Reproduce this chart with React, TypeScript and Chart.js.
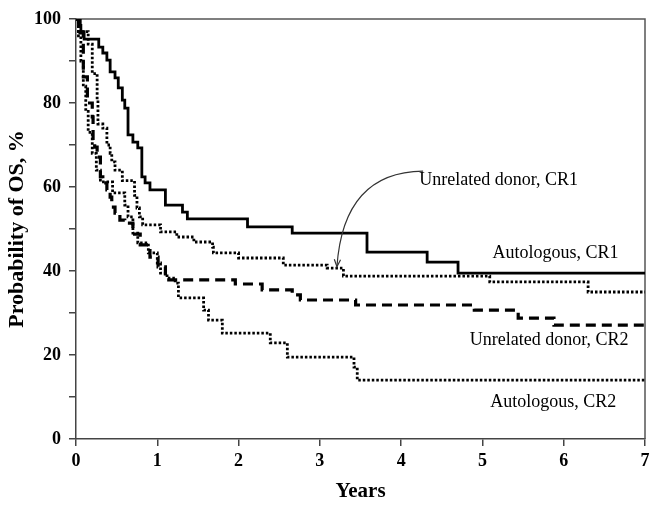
import React, { useEffect, useRef } from "react";
import { Chart, registerables } from "chart.js";

Chart.register(...registerables);

// ---- Data (years, survival %) ----
const autoCR1Years = [0, 0.03, 0.06, 0.1, 0.28, 0.33, 0.38, 0.42, 0.48, 0.52, 0.57, 0.6, 0.64, 0.7, 0.76, 0.81, 0.85, 0.91, 1.1, 1.31, 1.37, 2.11, 2.66, 3.58, 4.32, 4.7, 7];
const autoCR1Surv = [100, 98.5, 97, 95.2, 93.3, 91.9, 90.2, 87.4, 86, 83.6, 80.7, 78.8, 72.4, 70.7, 69.3, 62.4, 61, 59.3, 55.7, 54, 52.4, 50.5, 49, 44.5, 42.1, 39.5, 39.5];

const unrelCR1Years = [0, 0.03, 0.15, 0.2, 0.26, 0.27, 0.33, 0.38, 0.42, 0.44, 0.48, 0.57, 0.72, 0.75, 0.78, 0.82, 1.04, 1.24, 1.45, 1.68, 1.69, 2.0, 2.55, 3.09, 3.29, 5.09, 6.3, 7];
const unrelCR1Surv = [100, 97, 94, 87, 80.7, 75, 74, 70, 68, 66, 64, 61.5, 58, 55, 52.9, 51, 49.3, 48.1, 46.9, 45.7, 44.3, 43.1, 41.4, 40.7, 38.8, 37.4, 35, 35];

const unrelCR2Years = [0, 0.05, 0.09, 0.14, 0.2, 0.21, 0.23, 0.26, 0.3, 0.33, 0.38, 0.42, 0.44, 0.48, 0.54, 0.6, 0.7, 0.79, 0.91, 1.01, 1.1, 1.96, 2.29, 2.66, 2.76, 3.44, 4.9, 5.44, 5.88, 7];
const unrelCR2Surv = [100, 96.7, 86.2, 80, 76.7, 71.2, 69.5, 67.1, 62.4, 61, 59.3, 57.6, 55.2, 53.8, 52.1, 51.4, 48.8, 46.2, 43.3, 41, 37.9, 36.9, 35.5, 34.3, 33.1, 31.9, 30.7, 28.8, 27.1, 27.1];

const autoCR2Years = [0, 0.03, 0.06, 0.09, 0.12, 0.15, 0.2, 0.25, 0.3, 0.45, 0.6, 0.64, 0.7, 0.76, 0.89, 1.0, 1.04, 1.12, 1.22, 1.26, 1.57, 1.63, 1.8, 2.39, 2.6, 3.42, 3.46, 7];
const autoCR2Surv = [100, 96, 90, 84, 78, 73, 68, 64, 61.2, 58.6, 55.7, 52.9, 49, 46.7, 44.3, 41.9, 39.5, 38.3, 37.1, 33.6, 30.7, 28.3, 25.2, 22.9, 19.5, 17.1, 14, 14];

const xTickValues = [0, 1, 2, 3, 4, 5, 6, 7];
const yTickLabels = [0, 20, 40, 60, 80, 100];

// Annotations (in data units)
const labelTexts = ["Unrelated donor, CR1", "Autologous, CR1", "Unrelated donor, CR2", "Autologous, CR2"];
const labelYears = [5.2, 5.9, 5.82, 5.87];
const labelSurv = [61.6, 44.3, 23.6, 8.8];
const arrowYears = [4.27, 3.29, 3.21]; // start, control, end
const arrowSurv = [63.8, 63.6, 41.0];

function toPoints(xs: number[], ys: number[]) {
  return xs.map((x, i) => ({ x, y: ys[i] }));
}

const framePlugin = {
  id: "frameAndNotes",
  beforeDatasetsDraw(chart: any) {
    const { ctx, chartArea } = chart;
    ctx.save();
    ctx.strokeStyle = "#555";
    ctx.lineWidth = 1.5;
    ctx.beginPath();
    ctx.moveTo(chartArea.left, chartArea.top);
    ctx.lineTo(chartArea.right, chartArea.top);
    ctx.lineTo(chartArea.right, chartArea.bottom);
    ctx.stroke();
    ctx.restore();
  },
  afterDatasetsDraw(chart: any) {
    const { ctx } = chart;
    const xs = chart.scales.x;
    const ys = chart.scales.y;
    ctx.save();
    ctx.fillStyle = "#000";
    ctx.font = "18px 'Liberation Serif', 'Times New Roman', serif";
    ctx.textAlign = "center";
    ctx.textBaseline = "middle";
    labelTexts.forEach((t, i) => {
      ctx.fillText(t, xs.getPixelForValue(labelYears[i]), ys.getPixelForValue(labelSurv[i]));
    });
    // curved arrow
    const p = arrowYears.map((yr, i) => ({ x: xs.getPixelForValue(yr), y: ys.getPixelForValue(arrowSurv[i]) }));
    ctx.strokeStyle = "#333";
    ctx.lineWidth = 1.2;
    ctx.beginPath();
    ctx.moveTo(p[0].x, p[0].y);
    ctx.quadraticCurveTo(p[1].x, p[1].y, p[2].x, p[2].y);
    ctx.stroke();
    const ang = Math.atan2(p[2].y - p[1].y, p[2].x - p[1].x);
    const len = 8;
    ctx.beginPath();
    ctx.moveTo(p[2].x - len * Math.cos(ang - 0.4), p[2].y - len * Math.sin(ang - 0.4));
    ctx.lineTo(p[2].x, p[2].y);
    ctx.lineTo(p[2].x - len * Math.cos(ang + 0.4), p[2].y - len * Math.sin(ang + 0.4));
    ctx.stroke();
    ctx.restore();
  },
};

export default function App() {
  const ref = useRef<HTMLCanvasElement | null>(null);
  useEffect(() => {
    if (!ref.current) return;
    Chart.defaults.font.family = "'Liberation Serif', 'Times New Roman', serif";
    const common = { pointRadius: 0, stepped: "before" as const, fill: false, borderColor: "#000", tension: 0 };
    const chart = new Chart(ref.current, {
      type: "line",
      data: {
        datasets: [
          { ...common, label: "Autologous, CR1", data: toPoints(autoCR1Years, autoCR1Surv), borderWidth: 2.8 },
          { ...common, label: "Unrelated donor, CR1", data: toPoints(unrelCR1Years, unrelCR1Surv), borderWidth: 2.8, borderDash: [2.5, 2] },
          { ...common, label: "Unrelated donor, CR2", data: toPoints(unrelCR2Years, unrelCR2Surv), borderWidth: 3.2, borderDash: [10, 6] },
          { ...common, label: "Autologous, CR2", data: toPoints(autoCR2Years, autoCR2Surv), borderWidth: 2.8, borderDash: [2.5, 2] },
        ],
      },
      options: {
        responsive: false,
        animation: false,
        devicePixelRatio: 1,
        layout: { padding: { top: 19, right: 17, left: 0, bottom: 0 } },
        plugins: { legend: { display: false }, tooltip: { enabled: false } },
        scales: {
          x: {
            type: "linear",
            min: 0,
            max: 7,
            afterBuildTicks: (s: any) => { s.ticks = xTickValues.map((v) => ({ value: v })); },
            afterFit: (s: any) => { s.height = 70; },
            ticks: { autoSkip: false, color: "#000", padding: 5, font: { size: 18, weight: "bold" } },
            grid: { drawOnChartArea: false, drawTicks: true, tickLength: 7, color: "#444", lineWidth: 1.5 },
            border: { display: true, color: "#444", width: 1.5 },
            title: { display: true, text: "Years", color: "#000", font: { size: 21, weight: "bold" }, padding: { top: 0, bottom: 5 } },
          },
          y: {
            min: 0,
            max: 100,
            afterFit: (s: any) => { s.width = 76; },
            ticks: {
              stepSize: 10,
              autoSkip: false,
              color: "#000",
              padding: 8,
              font: { size: 18, weight: "bold" },
              callback: (v: any) => (yTickLabels.includes(Number(v)) ? String(v) : ""),
            },
            grid: { drawOnChartArea: false, drawTicks: true, tickLength: 7, color: "#444", lineWidth: 1.5 },
            border: { display: true, color: "#444", width: 1.5 },
            title: { display: true, text: "Probability of OS, %", color: "#000", font: { size: 22, weight: "bold" }, padding: { top: 4, bottom: 0 } },
          },
        },
      },
      plugins: [framePlugin],
    } as any);
    return () => chart.destroy();
  }, []);
  return (
    <div style={{ position: "absolute", left: 0, top: 0, width: 662, height: 509, background: "#fff" }}>
      <canvas ref={ref} width={662} height={509} />
    </div>
  );
}
